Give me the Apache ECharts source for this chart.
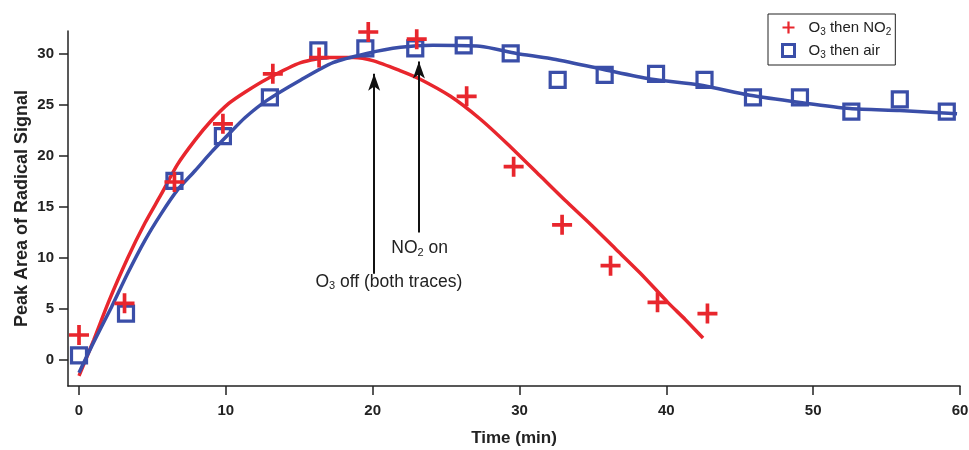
<!DOCTYPE html>
<html>
<head>
<meta charset="utf-8">
<script src="https://cdn.jsdelivr.net/npm/echarts@6/dist/echarts.min.js"></script>
<style>
html,body{margin:0;padding:0;background:#fff;}
#chart{width:969px;height:450px;}
</style>
</head>
<body>
<div id="chart"></div>
<script>
// ---- Data ----
var no2Name = 'O3 then NO2';
var airName = 'O3 then air';

var no2Time = [0, 3.1, 6.5, 9.8, 13.2, 16.35, 19.7, 23.0, 26.4, 29.6, 32.9, 36.2, 39.4, 42.8];
var no2Vals = [2.4, 5.5, 17.4, 23.1, 28.0, 29.6, 32.1, 31.4, 25.8, 18.9, 13.2, 9.2, 5.6, 4.5];

var airTime = [0, 3.2, 6.5, 9.8, 13.0, 16.3, 19.5, 22.9, 26.2, 29.4, 32.6, 35.8, 39.3, 42.6, 45.9, 49.1, 52.6, 55.9, 59.1];
var airVals = [0.4, 4.5, 17.5, 21.9, 25.7, 30.3, 30.5, 30.5, 30.8, 30.0, 27.4, 27.9, 28.0, 27.4, 25.7, 25.7, 24.3, 25.5, 24.3];

var no2FitTime = [0, 1, 2, 3.3, 4.5, 5.6, 6.7, 7.9, 9, 10.2, 11.3, 12.8, 15.1, 17.1, 18.7, 20, 21.9, 23.2, 25.3, 27.3, 29.2, 31.4, 33.1, 34.8, 36.5, 38.2, 40.1, 41.3, 42.5];
var no2FitVals = [-1.6, 1.9, 5.6, 9.9, 13.4, 16.2, 19.1, 21.5, 23.4, 25.1, 26.2, 27.5, 29.1, 29.6, 29.6, 29.3, 28.3, 27.5, 25.8, 23.6, 21.1, 18.0, 15.6, 13.3, 10.9, 8.5, 5.6, 3.9, 2.1];

var airFitTime = [0, 1, 2.2, 3.3, 4.5, 5.6, 6.7, 7.9, 9, 10.2, 11.3, 12.8, 15.1, 17.3, 19.6, 21.9, 24.1, 27.3, 29.8, 32.1, 35.5, 38.9, 42.3, 45.7, 49.1, 52.5, 55.9, 59.8];
var airFitVals = [-1.3, 1.7, 5.1, 8.4, 11.7, 14.3, 16.6, 18.5, 20.3, 22.1, 23.7, 25.4, 27.4, 29.1, 30.0, 30.6, 30.8, 30.7, 30.0, 29.5, 28.5, 27.5, 26.9, 25.9, 25.2, 24.6, 24.4, 24.1];

var xTicks = [0, 10, 20, 30, 40, 50, 60];
var yTicks = [0, 5, 10, 15, 20, 25, 30];

// annotations: arrows (data coords) and labels
var arrowX = [20.1, 23.15];
var arrowFrom = [8.4, 12.45];
var arrowTo = [28.0, 29.2];
var noteText = ['O3 off (both traces)', 'NO2 on'];
var noteX = [21.1, 23.2];
var noteY = [7.6, 10.9];

// ---- Styling ----
var RED = '#e8262d';
var BLUE = '#3a4ea8';
var FONT = 'Liberation Sans, Arial, sans-serif';
var PLUS = 'path://M7.75,0h3.5v7.75h7.75v3.5h-7.75v7.75h-3.5v-7.75h-7.75v-3.5h7.75z';

function zip(a, b) { return a.map(function (v, i) { return [v, b[i]]; }); }

function subRich(s) {
  // digits become subscripts
  var r = '{n|' + s.replace(/(\d)/g, '}{s|$1}{n|') + '}';
  return r.replace(/\{n\|\}/g, '');
}

var chart = echarts.init(document.getElementById('chart'), null, {renderer: 'canvas'});

var option = {
  animation: false,
  backgroundColor: '#fff',
  grid: {left: 68, right: 9, top: 31, bottom: 64, containLabel: false, outerBoundsMode: 'none'},
  legend: {
    orient: 'vertical',
    left: 768, top: 14,
    padding: [6, 4, 5, 13],
    itemGap: 6,
    itemWidth: 12, itemHeight: 12,
    borderColor: '#222', borderWidth: 1,
    data: [
      {name: no2Name, icon: PLUS, itemStyle: {color: RED, borderWidth: 0}},
      {name: airName, icon: 'rect', itemStyle: {color: '#fff', borderColor: BLUE, borderWidth: 3}}
    ],
    formatter: function (name) { return '{sp|}' + subRich(name); },
    textStyle: {
      fontFamily: FONT, fontSize: 15, color: '#222',
      rich: {
        sp: {width: 9},
        n: {fontFamily: FONT, fontSize: 15, color: '#222'},
        s: {fontFamily: FONT, fontSize: 10, color: '#222', verticalAlign: 'bottom', padding: [9, 0, 0, 0]}
      }
    }
  },
  xAxis: {
    type: 'value', min: -0.75, max: 60,
    name: 'Time (min)', nameLocation: 'middle', nameGap: 44, nameMoveOverlap: false,
    nameTextStyle: {fontFamily: FONT, fontSize: 17, fontWeight: 'bold', color: '#222'},
    axisLine: {onZero: false, lineStyle: {color: '#222', width: 1.5}},
    axisTick: {show: true, length: 9, inside: false, customValues: xTicks, lineStyle: {color: '#222', width: 1.5}},
    axisLabel: {customValues: xTicks, margin: 17, fontFamily: FONT, fontSize: 15, fontWeight: 'bold', color: '#222'},
    splitLine: {show: false}
  },
  yAxis: {
    type: 'value', min: -2.6, max: 32.2,
    name: 'Peak Area of Radical Signal', nameLocation: 'middle', nameGap: 37, nameMoveOverlap: false,
    nameTextStyle: {fontFamily: FONT, fontSize: 18, fontWeight: 'bold', color: '#222'},
    axisLine: {onZero: false, lineStyle: {color: '#222', width: 1.5}},
    axisTick: {show: true, length: 9, customValues: yTicks, lineStyle: {color: '#222', width: 1.5}},
    axisLabel: {customValues: yTicks, margin: 14, fontFamily: FONT, fontSize: 15, fontWeight: 'bold', color: '#222'},
    splitLine: {show: false}
  },
  series: [
    {
      name: 'fitNO2', type: 'line', data: zip(no2FitTime, no2FitVals), smooth: 0.25,
      showSymbol: false, lineStyle: {color: RED, width: 3.5}, z: 2, silent: true
    },
    {
      name: 'fitAir', type: 'line', data: zip(airFitTime, airFitVals), smooth: 0.25,
      showSymbol: false, lineStyle: {color: BLUE, width: 3.5}, z: 2, silent: true
    },
    {
      name: no2Name, type: 'scatter', data: zip(no2Time, no2Vals),
      symbol: PLUS, symbolSize: 20, itemStyle: {color: RED, opacity: 1}, z: 4
    },
    {
      name: airName, type: 'scatter', data: zip(airTime, airVals),
      symbol: 'rect', symbolSize: 15,
      itemStyle: {color: 'rgba(0,0,0,0)', borderColor: BLUE, borderWidth: 3.2, opacity: 1}, z: 3,
      markLine: {
        silent: true, animation: false,
        symbol: ['none', 'arrow'], symbolSize: [9, 17],
        lineStyle: {color: '#111', width: 2, type: 'solid'},
        label: {show: false},
        data: arrowX.map(function (x, i) {
          return [{coord: [x, arrowFrom[i]]}, {coord: [x, arrowTo[i]]}];
        })
      }
    }
  ]
};
chart.setOption(option);

var noteRich = {
  n: {fontFamily: FONT, fontSize: 17.5, fill: '#222', color: '#222'},
  s: {fontFamily: FONT, fontSize: 11, fill: '#222', color: '#222', verticalAlign: 'bottom', padding: [9, 0, 0, 0]}
};
chart.setOption({
  graphic: noteText.map(function (t, i) {
    var p = chart.convertToPixel({xAxisIndex: 0, yAxisIndex: 0}, [noteX[i], noteY[i]]);
    return {
      type: 'text', x: p[0], y: p[1], z: 10,
      style: {text: subRich(t), rich: noteRich, align: 'center', verticalAlign: 'middle',
              font: '17.5px ' + FONT, fill: '#222'}
    };
  })
});
</script>
</body>
</html>
